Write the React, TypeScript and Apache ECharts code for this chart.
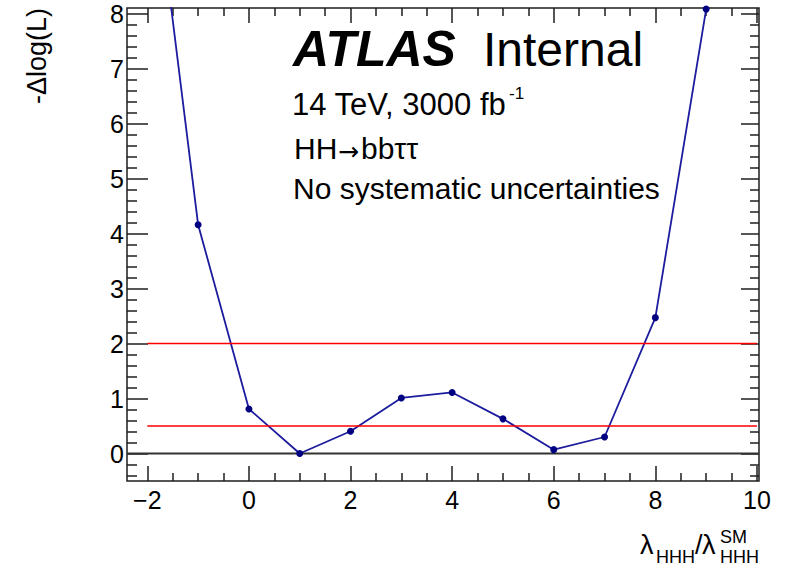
import React, { useEffect, useRef } from "react";
import * as echarts from "echarts";

// Scan points: coupling ratio vs. -Δlog(L)
const lambdaValues = [-2, -1, 0, 1, 2, 3, 4, 5, 6, 7, 8, 9];
const nllValues = [11.6, 4.16, 0.81, 0.0, 0.405, 1.01, 1.11, 0.63, 0.07, 0.3, 2.47, 8.08];

// Reference levels (horizontal red lines) and their x extent
const refLevels = [0.5, 2];
const refSpan = [-2, 10];

// Axis ranges and tick positions
const xRange = [-2.4, 10.04];
const yRange = [-0.5, 8.1];
const xMajorTicks = [-2, 0, 2, 4, 6, 8, 10];
const xMinorTicks = [-1.5, -1, -0.5, 0.5, 1, 1.5, 2.5, 3, 3.5, 4.5, 5, 5.5, 6.5, 7, 7.5, 8.5, 9, 9.5];
const yMajorTicks = [0, 1, 2, 3, 4, 5, 6, 7, 8];
const yMinorTicks = [
  -0.4, -0.2, 0.2, 0.4, 0.6, 0.8, 1.2, 1.4, 1.6, 1.8, 2.2, 2.4, 2.6, 2.8, 3.2, 3.4, 3.6, 3.8,
  4.2, 4.4, 4.6, 4.8, 5.2, 5.4, 5.6, 5.8, 6.2, 6.4, 6.6, 6.8, 7.2, 7.4, 7.6, 7.8,
];

const FONT = '"Liberation Sans", Arial, Helvetica, sans-serif';
const ARROW_FONT = '"DejaVu Sans", sans-serif';
const INK = "#1e1e1e";

type AxisSpec = {
  dim: "x" | "y";
  position: string;
  ticks: number[];
  length: number;
  labels?: boolean;
};

function makeAxis(spec: AxisSpec) {
  const range = spec.dim === "x" ? xRange : yRange;
  return {
    type: "value",
    gridIndex: 0,
    position: spec.position,
    offset: 0,
    min: range[0],
    max: range[1],
    axisLine: { show: false, onZero: false },
    splitLine: { show: false },
    axisTick: {
      show: true,
      inside: true,
      length: spec.length,
      customValues: spec.ticks,
      lineStyle: { color: INK, width: 1.5 },
    },
    axisLabel: spec.labels
      ? {
          show: true,
          customValues: spec.ticks,
          color: "#000",
          fontFamily: FONT,
          fontSize: 25,
          margin: spec.dim === "x" ? 6 : 3,
          formatter: (v: number) => String(v).replace("-", "\u2212"),
        }
      : { show: false },
  };
}

function txt(text: string, x: number, y: number, size: number, extra: Record<string, unknown> = {}) {
  const {
    fontStyle = "normal",
    fontWeight = "normal",
    align = "left",
    rotation = 0,
    family = FONT,
  } = extra as any;
  return {
    type: "text",
    x,
    y,
    rotation,
    silent: true,
    style: {
      text,
      fill: "#000",
      font: `${fontStyle} ${fontWeight} ${size}px ${family}`,
      align,
      verticalAlign: "middle",
      textAlign: align,
      textVerticalAlign: "middle",
    },
  };
}

export default function App() {
  const ref = useRef<HTMLDivElement>(null);

  useEffect(() => {
    if (!ref.current) return;
    const chart = echarts.init(ref.current, undefined, { renderer: "svg" });

    const curve = lambdaValues.map((x, i) => [x, nllValues[i]]);

    const option: any = {
      animation: false,
      backgroundColor: "#fff",
      grid: {
        left: 127,
        top: 8,
        width: 632,
        height: 473,
        show: true,
        borderColor: INK,
        borderWidth: 1.5,
        backgroundColor: "transparent",
        containLabel: false,
        outerBoundsMode: "none",
      },
      xAxis: [
        makeAxis({ dim: "x", position: "bottom", ticks: xMajorTicks, length: 15, labels: true }),
        makeAxis({ dim: "x", position: "bottom", ticks: xMinorTicks, length: 8 }),
        makeAxis({ dim: "x", position: "top", ticks: xMajorTicks, length: 15 }),
        makeAxis({ dim: "x", position: "top", ticks: xMinorTicks, length: 8 }),
      ],
      yAxis: [
        makeAxis({ dim: "y", position: "left", ticks: yMajorTicks, length: 21, labels: true }),
        makeAxis({ dim: "y", position: "left", ticks: yMinorTicks, length: 10 }),
        makeAxis({ dim: "y", position: "right", ticks: yMajorTicks, length: 18 }),
        makeAxis({ dim: "y", position: "right", ticks: yMinorTicks, length: 9 }),
      ],
      series: [
        {
          type: "line",
          name: "zero",
          data: [
            [xRange[0], 0],
            [xRange[1], 0],
          ],
          showSymbol: false,
          silent: true,
          lineStyle: { color: "#333", width: 2 },
          z: 1,
        },
        {
          type: "line",
          name: "scan",
          data: curve,
          clip: true,
          symbol: "circle",
          symbolSize: 7,
          showAllSymbol: true,
          lineStyle: { color: "#1c1c9e", width: 1.8 },
          itemStyle: { color: "#000080" },
          z: 3,
        },
        ...refLevels.map((lvl) => ({
          type: "line",
          name: `ref${lvl}`,
          data: refSpan.map((x) => [x, lvl]),
          showSymbol: false,
          silent: true,
          lineStyle: { color: "#ff0000", width: 1.5 },
          z: 4,
        })),
      ],
      graphic: [
        txt("ATLAS", 293, 49, 50, { fontStyle: "italic", fontWeight: "bold" }),
        txt("Internal", 483, 49, 48),
        txt("14 TeV, 3000 fb", 292, 104, 31),
        txt("-1", 509, 93, 17),
        txt("HH", 294, 148, 30),
        txt("\u2192", 338, 151, 25, { family: ARROW_FONT }),
        txt("bb\u03c4\u03c4", 361, 148, 30),
        txt("No systematic uncertainties", 293, 188, 30),
        // y-axis title, reading bottom to top
        txt("-\u0394log(L)", 37, 8, 27, { align: "right", rotation: Math.PI / 2 }),
        // x-axis title: λ_HHH / λ^SM_HHH
        txt("\u03bb", 640, 545, 27),
        txt("HHH", 656, 557, 18),
        txt("/", 695, 545, 27),
        txt("\u03bb", 702, 545, 27),
        txt("SM", 720, 537, 18),
        txt("HHH", 720, 557, 18),
      ],
    };

    chart.setOption(option);
    return () => chart.dispose();
  }, []);

  return (
    <div
      ref={ref}
      style={{ position: "fixed", left: 0, top: 0, width: 786, height: 567 }}
    />
  );
}
